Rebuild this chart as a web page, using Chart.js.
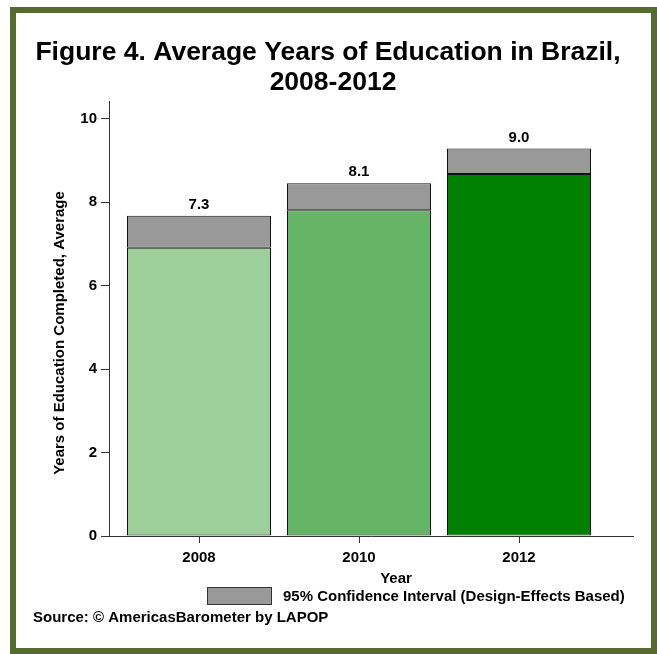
<!DOCTYPE html>
<html lang="en">
<head>
    <meta charset="UTF-8">
    <title>Average Years of Education in Brazil</title>
    <style>
        body { margin: 0; background: #fff; }
        .frame {
            position: absolute; left: 10px; top: 7px;
            width: 647px; height: 647px;
            box-sizing: border-box;
            border: 6px solid #556b2f;
        }
        #eduChart { position: absolute; left: 0; top: 0; }
    </style>
</head>
<body>
    <div class="frame"></div>
    <canvas id="eduChart" width="657" height="654"></canvas>

    <script src="https://cdn.jsdelivr.net/npm/chart.js"></script>
    <script>
        // values
        const years = ['2008', '2010', '2012'];
        const means = [7.3, 8.13, 8.99];
        const ciLow = [6.91, 7.81, 8.68];
        const ciHigh = [7.68, 8.46, 9.29];
        const yTicks = [0, 2, 4, 6, 8, 10];
        const barColors = ['#9ccf99', '#66b466', '#008000'];

        const FONT = '"Liberation Sans", Arial, sans-serif';

        // all the text around the plot
        const textPlugin = {
            id: 'lapopText',
            afterDatasetsDraw(chart) {
                const ctx = chart.ctx;
                const x = chart.scales.x, y = chart.scales.y;
                ctx.save();
                ctx.fillStyle = '#000';
                ctx.textAlign = 'center';
                ctx.textBaseline = 'middle';

                // value labels above each interval
                ctx.font = 'bold 15px ' + FONT;
                means.forEach((m, i) => {
                    ctx.fillText(m.toFixed(1), x.getPixelForValue(i), y.getPixelForValue(ciHigh[i]) - 11);
                });

                // title
                ctx.font = 'bold 26.5px ' + FONT;
                ctx.fillText('Figure 4. Average Years of Education in Brazil,', 328, 53);
                ctx.fillText('2008-2012', 333, 83);

                // y axis title
                ctx.font = 'bold 15px ' + FONT;
                ctx.save();
                ctx.translate(60, 333);
                ctx.rotate(-Math.PI / 2);
                ctx.fillText('Years of Education Completed, Average', 0, 0);
                ctx.restore();

                // x axis title
                ctx.fillText('Year', 396, 579);

                // legend
                ctx.fillStyle = '#999999';
                ctx.fillRect(207, 587, 65, 18);
                ctx.strokeStyle = '#333';
                ctx.lineWidth = 1;
                ctx.strokeRect(207.5, 587.5, 64, 17);
                ctx.fillStyle = '#000';
                ctx.textAlign = 'left';
                ctx.fillText('95% Confidence Interval (Design-Effects Based)', 283, 597);

                // source
                ctx.fillText('Source: \u00a9 AmericasBarometer by LAPOP', 33, 618);
                ctx.restore();
            }
        };

        new Chart(document.getElementById('eduChart'), {
            type: 'bar',
            data: {
                datasets: [{
                    data: years.map((yr, i) => ({ x: i, y: [0, ciLow[i]] })),
                    backgroundColor: barColors,
                    borderColor: '#111',
                    borderWidth: 1,
                    borderSkipped: false,
                    barPercentage: 0.9,
                    categoryPercentage: 1,
                    grouped: false
                }, {
                    data: years.map((yr, i) => ({ x: i, y: [ciLow[i], ciHigh[i]] })),
                    backgroundColor: '#999999',
                    borderColor: '#111',
                    borderWidth: 1,
                    borderSkipped: false,
                    barPercentage: 0.9,
                    categoryPercentage: 1,
                    grouped: false
                }, {
                    type: 'scatter',
                    data: years.map((yr, i) => ({ x: i, y: means[i] })),
                    pointRadius: 3.5,
                    pointBackgroundColor: '#000',
                    pointBorderWidth: 0,
                    showLine: false
                }]
            },
            options: {
                responsive: false,
                animation: false,
                layout: { padding: { top: 101, left: 0, right: 24, bottom: 0 } },
                plugins: { legend: { display: false }, tooltip: { enabled: false } },
                scales: {
                    x: {
                        type: 'linear',
                        offset: false,
                        min: -0.5625,
                        max: 2.7125,
                        afterBuildTicks: s => { s.ticks = years.map((yr, i) => ({ value: i })); },
                        afterFit: s => { s.height = 118; },
                        ticks: {
                            callback: v => years[v],
                            color: '#000',
                            font: { family: FONT, size: 15, weight: 'bold' },
                            padding: 6,
                            maxRotation: 0
                        },
                        grid: { offset: false, drawOnChartArea: false, tickLength: 7, color: '#333' },
                        border: { color: '#333' }
                    },
                    y: {
                        min: 0,
                        max: 10.43,
                        afterBuildTicks: s => { s.ticks = yTicks.map(v => ({ value: v })); },
                        afterFit: s => { s.width = 109; },
                        ticks: {
                            color: '#000',
                            font: { family: FONT, size: 15, weight: 'bold' },
                            padding: 4
                        },
                        grid: { drawOnChartArea: false, tickLength: 8, color: '#333' },
                        border: { color: '#333' }
                    }
                }
            },
            plugins: [textPlugin]
        });
    </script>
</body>
</html>
